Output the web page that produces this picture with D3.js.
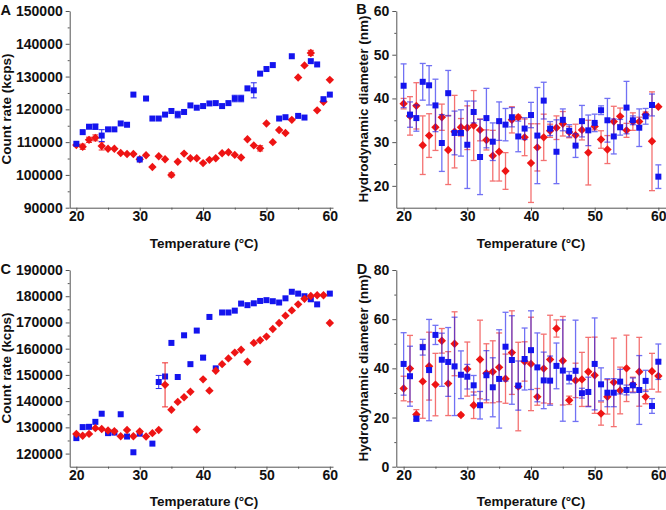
<!DOCTYPE html>
<html><head><meta charset="utf-8">
<script src="https://cdn.jsdelivr.net/npm/d3@7"></script>
<style>body{margin:0;background:#fff}svg{display:block}</style>
</head><body>
<svg id="c" width="666" height="510"></svg>
<script>
// ---------- DATA ----------
const temperatures = [20,21,22,23,24,25,26,27,28,29,30,31,32,33,34,35,36,37,38,39,40,41,42,43,44,45,46,47,48,49,50,51,52,53,54,55,56,57,58,59,60];
const xTicks = [20,30,40,50,60];

// Panel A: count rate (kcps)
const aBlue = [109500,113050,114700,114700,112000,113900,113900,115700,115300,124500,104700,123300,117200,117200,118400,119500,118400,119200,121200,120500,121000,121800,121900,121000,121900,123300,123300,126400,125800,130900,132300,133500,117200,117600,136200,118000,117500,134700,133700,123100,124500];
const aBlueErr = [0,0,0,800,1800,0,0,0,0,0,0,0,0,0,0,0,1000,0,0,0,0,0,0,0,0,1000,1000,0,2300,0,0,0,0,0,0,0,0,0,0,0,0];
const aRed = [109100,108600,110700,111300,108800,108000,108000,106700,106400,106400,104800,106000,102400,105700,104800,100000,104000,106500,105100,105100,103600,104600,105100,106600,106900,106100,105300,110900,109000,108100,115700,110000,113700,112800,116800,129700,133400,137200,119700,122300,129000];
const aRedErr = [0,800,800,900,1200,0,0,0,0,0,0,0,0,0,0,600,0,0,0,0,0,0,0,0,0,0,0,0,0,800,0,0,0,0,0,0,0,800,0,0,0];
const aYTicks = [90000,100000,110000,120000,130000,140000,150000];

// Panel B: hydrodynamic diameter (nm)
const bBlue = [42.9,36.3,35.5,43.8,43.0,38.4,29.8,41.2,32.1,32.1,29.4,36.9,26.6,35.5,30.1,34.8,34.0,35.7,31.3,33.1,36.2,31.5,39.5,33.1,27.8,35.1,32.6,29.2,34.8,32.7,34.4,37.3,35.0,31.3,33.4,37.9,35.0,33.3,35.9,38.5,22.1];
const bBlueErr = [5,2.9,3,4.2,4.5,6,6.5,5.2,5,5.3,10,2.5,8.6,6.8,4.3,4.4,3.7,2.2,3.5,2.5,2.9,11,4.2,1.6,7.3,2.5,1.4,2.7,3.6,3.5,2,1,5,4,1.8,6,1,4.3,1.8,2.5,2.7];
const bRed = [38.8,36.0,38.3,29.3,31.5,33.4,35.7,28.2,32.4,33.4,33.3,33.8,32.8,30.5,26.9,27.8,23.4,35.1,35.7,31.1,25.2,28.8,31.1,32.6,33.3,34.2,32.3,31.6,32.8,27.6,33.6,30.6,28.3,34.7,35.9,32.7,34.7,34.7,36.3,30.2,38.1];
const bRedErr = [1.2,4.4,5.3,6.7,5,5.3,3,7.9,8.3,2,5,8,2.5,2.3,5.8,6.7,4.2,3,0.5,4.2,9,5.4,5.3,1.5,2.7,2.8,1.3,2.5,2.3,7.4,0.8,2,3.2,3.5,1.9,1.6,2,1,0.6,11.3,0];
const bYTicks = [20,30,40,50,60];

// Panel C: count rate (kcps)
const cBlue = [125900,130100,130200,132100,135200,127800,128000,135000,126500,120500,127600,null,123800,147300,149400,162200,149200,165100,154100,166900,156600,172100,152500,173800,173800,174500,177200,176600,177300,178200,178500,178100,177600,179200,181700,181000,180000,178900,176900,null,181000];
const cBlueErr = [0,0,0,0,0,0,0,0,0,0,0,0,0,2500,0,0,0,0,0,0,800,0,0,0,0,0,0,0,0,0,0,0,0,0,0,0,0,1000,0,0,0];
const cRed = [127500,126800,127500,129700,129400,128800,128500,126600,129000,126600,128400,126500,127800,129000,146200,136700,139700,141500,143600,129200,148300,144000,151600,154100,156300,158500,159600,155000,162200,163200,164600,167500,169800,172600,174600,176900,179000,180100,180400,180400,169800];
const cRedErr = [0,0,0,0,0,0,0,0,0,0,0,0,0,0,8400,0,0,0,0,0,0,0,0,0,0,0,0,0,0,0,0,0,0,0,0,0,0,0,0,0,0];
const cYTicks = [120000,130000,140000,150000,160000,170000,180000,190000];

// Panel D: hydrodynamic diameter (nm)
const dBlue = [41.8,36.8,19.5,48.6,39.3,53.6,43.5,42.6,40.8,37.4,36.6,33.1,25.0,37.2,32.3,35.7,48.8,43.4,33.0,43.8,47.4,40.4,35.1,35.0,41.0,39.1,36.2,39.0,29.9,30.4,41.8,33.5,30.1,30.1,34.6,31.2,33.1,31.2,34.9,24.7,42.7];
const dBlueErr = [12.7,12.2,1,3.2,20.6,3.9,10.8,14,20,9.7,5,4,5.6,10,12,20,14,18,10,12.6,16,14,11.5,10,9.3,20.6,2.5,20.6,2,6,18.7,6.7,5.7,5.7,5,2,3,14,4.3,3,7.2];
const dRed = [31.8,39.9,21.2,34.7,40.9,33.4,51.2,33.8,50.0,21.0,39.7,25.0,43.6,38.0,38.6,40.4,35.8,46.4,32.6,42.8,41.8,28.4,39.9,43.6,56.2,43.1,27.0,35.1,35.5,38.6,37.2,21.6,28.4,34.3,31.0,40.0,33.4,38.6,28.4,38.8,36.9];
const dRedErr = [5,13.5,2,15,13.8,12.7,5,13,13,0.5,11,5.4,16,12,12.6,14,10,17,18,8,19,3.4,14,18,3.5,18,1.7,7,11,14,15.5,4.7,7,18,9.5,13.5,3,14,2.8,7.3,6.5];
const dYTicks = [0,20,40,60,80];

// ---------- DRAWING ----------
const BLUE = "#1414ee", RED = "#ee1414";
const FONT = "'Liberation Sans', Arial, sans-serif";
const svg = d3.select("#c");

function rows(vals, errs) {
  return temperatures.map((t, i) => ({t, v: vals[i], e: errs[i]})).filter(d => d.v != null);
}

function drawSeries(g, x, y, data, color, shape, barStyle) {
  const eb = g.append("g").attr("stroke", color).attr("stroke-width", barStyle.w).attr("opacity", barStyle.op);
  data.filter(d => d.e > 0).forEach(d => {
    const px = x(d.t), y1 = y(d.v - d.e), y2 = y(d.v + d.e);
    eb.append("line").attr("x1", px).attr("x2", px).attr("y1", y1).attr("y2", y2);
    eb.append("line").attr("x1", px - 3).attr("x2", px + 3).attr("y1", y1).attr("y2", y1);
    eb.append("line").attr("x1", px - 3).attr("x2", px + 3).attr("y1", y2).attr("y2", y2);
  });
  const mg = g.append("g").attr("fill", color);
  if (shape === "square") {
    mg.selectAll("rect").data(data).join("rect")
      .attr("x", d => x(d.t) - 3).attr("y", d => y(d.v) - 3)
      .attr("width", 6).attr("height", 6);
  } else {
    mg.selectAll("path").data(data).join("path")
      .attr("d", d => { const px = x(d.t), py = y(d.v), r = 4.2;
        return `M${px},${py-r}L${px+r},${py}L${px},${py+r}L${px-r},${py}Z`; });
  }
}

function panel(o) {
  const g = svg.append("g");
  const x = d3.scaleLinear().domain(o.xDomain).range(o.xRange);
  const y = d3.scaleLinear().domain(o.yDomain).range(o.yRange);
  const y0 = o.yRange[0], x0 = o.xRange[0];

  // x axis
  const xa = g.append("g").attr("transform", `translate(0,${y0})`)
    .call(d3.axisBottom(x).tickValues(xTicks).tickSize(3).tickPadding(0).tickSizeOuter(0));
  g.append("g").attr("transform", `translate(0,${y0})`)
    .call(d3.axisBottom(x).tickValues(xTicks.slice(0, -1).map((t, i) => (t + xTicks[i + 1]) / 2)).tickSize(2).tickFormat("").tickSizeOuter(0))
    .select(".domain").remove();
  // y axis
  const ya = g.append("g").attr("transform", `translate(${x0},0)`)
    .call(d3.axisLeft(y).tickValues(o.yTicks).tickSize(4).tickPadding(3).tickFormat(d3.format("d")).tickSizeOuter(0));
  g.append("g").attr("transform", `translate(${x0},0)`)
    .call(d3.axisLeft(y).tickValues(o.yTicks.slice(0, -1).map((t, i) => (t + o.yTicks[i + 1]) / 2)).tickSize(2).tickFormat("").tickSizeOuter(0))
    .select(".domain").remove();
  g.selectAll(".domain, .tick line").attr("stroke", "#555").attr("stroke-width", 1);
  g.selectAll(".tick text").attr("font-family", FONT).attr("font-weight", "bold").attr("font-size", 14).attr("fill", "#111");

  // titles
  g.append("text").attr("x", o.xTitle[0]).attr("y", o.xTitle[1]).attr("text-anchor", "middle")
    .attr("font-family", FONT).attr("font-weight", "bold").attr("font-size", 13.5).attr("fill", "#111")
    .text("Temperature (°C)");
  g.append("text").attr("transform", `translate(${o.yTitle[0]},${o.yTitle[1]}) rotate(-90)`).attr("text-anchor", "middle")
    .attr("font-family", FONT).attr("font-weight", "bold").attr("font-size", 13.5).attr("fill", "#111")
    .text(o.yLabel);
  g.append("text").attr("x", o.letter[0]).attr("y", o.letter[1])
    .attr("font-family", FONT).attr("font-weight", "bold").attr("font-size", 14.5).attr("fill", "#111")
    .text(o.name);

  const bar = o.light ? {w: 1.3, op: 0.6} : {w: 1, op: 0.9};
  const blue = rows(o.blue, o.blueErr), red = rows(o.red, o.redErr);
  if (o.redOnTop) {
    drawSeries(g, x, y, blue, BLUE, "square", bar);
    drawSeries(g, x, y, red, RED, "diamond", bar);
  } else {
    drawSeries(g, x, y, red, RED, "diamond", bar);
    drawSeries(g, x, y, blue, BLUE, "square", bar);
  }
}

panel({name: "A", letter: [0.5, 15], xDomain: [18.95, 60.5], xRange: [69.7, 333], yDomain: [90000, 150000], yRange: [207.7, 11],
  yTicks: aYTicks, yLabel: "Count rate (kcps)", xTitle: [204, 248], yTitle: [10.5, 109],
  blue: aBlue, blueErr: aBlueErr, red: aRed, redErr: aRedErr, redOnTop: false, light: false});
panel({name: "B", letter: [356.3, 14], xDomain: [18.85, 61.2], xRange: [396.3, 666], yDomain: [15, 60], yRange: [207.7, 11],
  yTicks: bYTicks, yLabel: "Hydrodynamic diameter (nm)", xTitle: [531, 248], yTitle: [368, 109],
  blue: bBlue, blueErr: bBlueErr, red: bRed, redErr: bRedErr, redOnTop: false, light: true});
panel({name: "C", letter: [0.5, 273.5], xDomain: [18.95, 60.5], xRange: [69.7, 333], yDomain: [115000, 190000], yRange: [466.7, 270],
  yTicks: cYTicks, yLabel: "Count rate (kcps)", xTitle: [204, 506], yTitle: [10.5, 368],
  blue: cBlue, blueErr: cBlueErr, red: cRed, redErr: cRedErr, redOnTop: true, light: false});
panel({name: "D", letter: [356.8, 273.5], xDomain: [18.85, 61.2], xRange: [396.3, 666], yDomain: [0, 80], yRange: [466.7, 270],
  yTicks: dYTicks, yLabel: "Hydrodynamic diameter (nm)", xTitle: [531, 506], yTitle: [368, 368],
  blue: dBlue, blueErr: dBlueErr, red: dRed, redErr: dRedErr, redOnTop: false, light: true});
</script>
</body></html>
